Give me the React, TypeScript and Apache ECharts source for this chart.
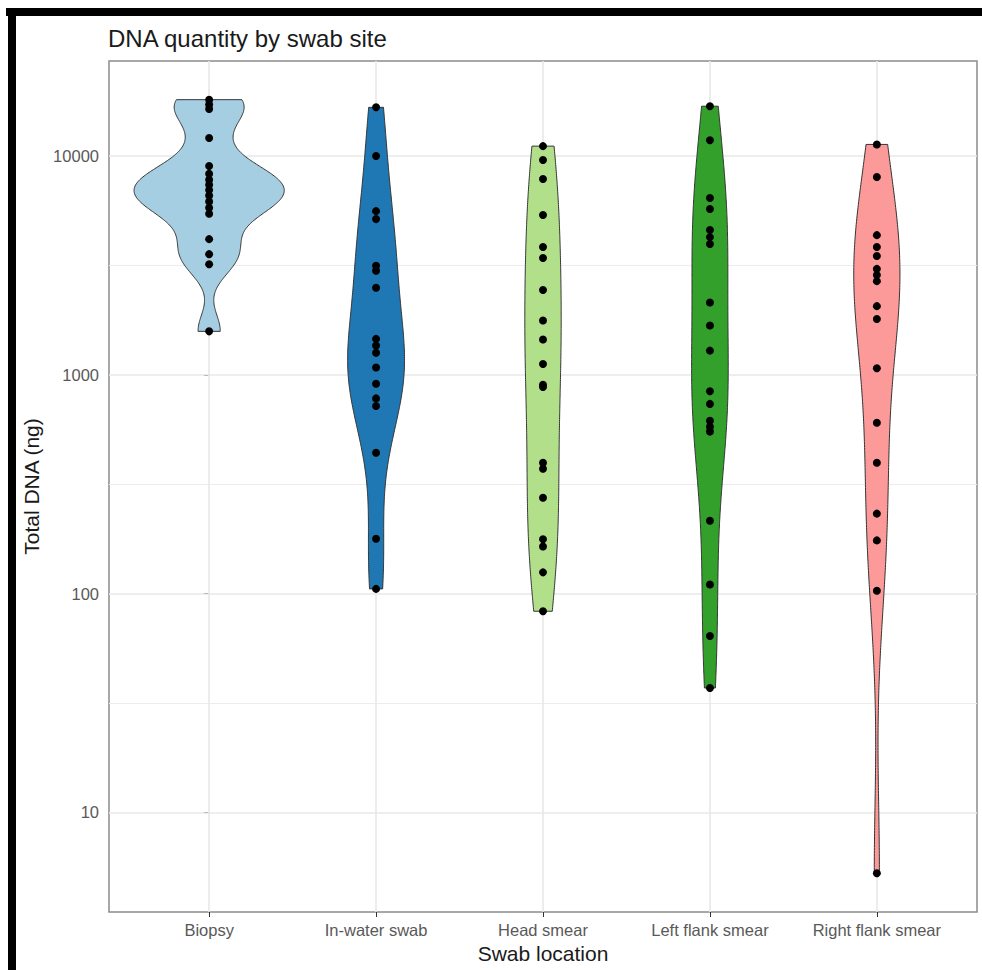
import React, { useEffect, useRef } from 'react';
import * as echarts from 'echarts';

const categories = ['Biopsy', 'In-water swab', 'Head smear', 'Left flank smear', 'Right flank smear'];

const biopsy = [18100, 17200, 16400, 12100, 9000, 8300, 7800, 7400, 7000, 6600, 6200, 5800, 5450, 4170, 3560, 3200, 1580];
const inWaterSwab = [16700, 10000, 5600, 5150, 3150, 2990, 2500, 1460, 1360, 1260, 1080, 910, 780, 720, 440, 178, 105];
const headSmear = [11100, 9600, 7850, 5380, 3840, 3420, 2440, 1770, 1450, 1120, 900, 880, 396, 372, 274, 177, 164, 125, 83];
const leftFlankSmear = [16900, 11800, 6430, 5730, 4590, 4260, 3960, 2140, 1680, 1290, 841, 736, 616, 579, 550, 215, 110, 64, 37];
const rightFlankSmear = [11300, 8020, 4350, 3840, 3490, 3050, 2860, 2680, 2060, 1800, 1072, 604, 396, 232, 175, 103, 5.26];

const fillColors = ['#A6CEE3', '#1F78B4', '#B2DF8A', '#33A02C', '#FB9A99'];
const yTickValues = [10, 100, 1000, 10000];
const yMinorValues = [31.62, 316.2, 3162];

const FONT = "'Liberation Sans', Arial, Helvetica, sans-serif";

function quantile7(sorted: number[], p: number) {
  const h = (sorted.length - 1) * p;
  const lo = Math.floor(h);
  const hi = Math.ceil(h);
  return sorted[lo] + (h - lo) * (sorted[hi] - sorted[lo]);
}

function bwNrd0(sorted: number[]) {
  const n = sorted.length;
  const mean = sorted.reduce((a, b) => a + b, 0) / n;
  const sd = Math.sqrt(sorted.reduce((a, b) => a + (b - mean) * (b - mean), 0) / (n - 1));
  const iqr = quantile7(sorted, 0.75) - quantile7(sorted, 0.25);
  let lo = Math.min(sd, iqr / 1.34);
  if (!lo) lo = sd || Math.abs(sorted[0]) || 1;
  return 0.9 * lo * Math.pow(n, -0.2);
}

const groups = [biopsy, inWaterSwab, headSmear, leftFlankSmear, rightFlankSmear];
const logGroups = groups.map((g) => g.map((v) => Math.log10(v)));

const NGRID = 256;
const densities = logGroups.map((lg) => {
  const s = [...lg].sort((a, b) => a - b);
  const bw = bwNrd0(s);
  const lo = s[0];
  const hi = s[s.length - 1];
  const ys: number[] = [];
  const ds: number[] = [];
  const c = 1 / (s.length * bw * Math.sqrt(2 * Math.PI));
  for (let k = 0; k < NGRID; k++) {
    const y = lo + ((hi - lo) * k) / (NGRID - 1);
    let d = 0;
    for (const xi of s) {
      const z = (y - xi) / bw;
      d += Math.exp(-0.5 * z * z);
    }
    ys.push(y);
    ds.push(d * c);
  }
  return { ys, ds };
});
const maxDensity = Math.max(...densities.map((d) => Math.max(...d.ds)));

const allLogs = logGroups.flat();
const logMin = Math.min(...allLogs);
const logMax = Math.max(...allLogs);
const logRange = logMax - logMin;
const yAxisMin = logMin - 0.05 * logRange;
const yAxisMax = logMax + 0.05 * logRange;

export default function App() {
  const ref = useRef<HTMLDivElement>(null);

  useEffect(() => {
    if (!ref.current) return;
    const chart = echarts.init(ref.current, undefined, { renderer: 'svg' });
    const gridLine = { color: '#e8e8e8', width: 1.6, type: 'solid' };
    const minorLine = { color: '#ececec', width: 1, type: 'solid' };
    const option: any = {
      animation: false,
      backgroundColor: '#ffffff',
      title: {
        text: 'DNA quantity by swab site',
        left: 108,
        top: 26,
        padding: 0,
        textStyle: { fontSize: 24, fontWeight: 'normal', color: '#1a1a1a', fontFamily: FONT },
      },
      graphic: [
        { type: 'rect', shape: { x: 6, y: 8, width: 976, height: 8 }, style: { fill: '#000' }, silent: true },
        { type: 'rect', shape: { x: 8, y: 8, width: 8, height: 962 }, style: { fill: '#000' }, silent: true },
      ],
      grid: {
        left: 109,
        right: 5,
        top: 61,
        bottom: 58,
        show: true,
        borderColor: '#8c8c8c',
        borderWidth: 1.5,
        backgroundColor: 'transparent',
        z: 0,
      },
      xAxis: {
        type: 'value',
        min: -0.6,
        max: 4.6,
        axisLine: { show: false },
        splitLine: { show: false },
        axisTick: { show: true, customValues: [0, 1, 2, 3, 4], length: 5, lineStyle: { color: '#333' } },
        axisLabel: {
          customValues: [0, 1, 2, 3, 4],
          formatter: (v: number) => categories[Math.round(v)],
          fontSize: 16.5,
          color: '#595959',
          margin: 9,
          fontFamily: FONT,
        },
        name: 'Swab location',
        nameLocation: 'middle',
        nameGap: 26,
        nameTextStyle: { fontSize: 21, color: '#1a1a1a', fontFamily: FONT },
      },
      yAxis: {
        type: 'value',
        min: yAxisMin,
        max: yAxisMax,
        axisLine: { show: false },
        splitLine: { show: false },
        axisTick: { show: true, customValues: yTickValues.map((v) => Math.log10(v)), length: 5, lineStyle: { color: '#333' } },
        axisLabel: {
          customValues: yTickValues.map((v) => Math.log10(v)),
          formatter: (v: number) => String(Math.round(Math.pow(10, v))),
          fontSize: 16.5,
          color: '#595959',
          margin: 10,
          fontFamily: FONT,
        },
        name: 'Total DNA (ng)',
        nameLocation: 'middle',
        nameRotate: 90,
        nameGap: 64,
        nameTextStyle: { fontSize: 21, color: '#1a1a1a', fontFamily: FONT },
      },
      series: [
        {
          type: 'line',
          data: [],
          z: 1,
          silent: true,
          markLine: {
            z: 1,
            silent: true,
            symbol: ['none', 'none'],
            label: { show: false },
            animation: false,
            data: [
              ...yMinorValues.map((v) => ({ yAxis: Math.log10(v), lineStyle: minorLine })),
              ...yTickValues.map((v) => ({ yAxis: Math.log10(v), lineStyle: gridLine })),
              ...categories.map((_, i) => ({ xAxis: i, lineStyle: gridLine })),
            ],
          },
        },
        {
          type: 'custom',
          z: 3,
          silent: true,
          data: categories.map((_, i) => [i, yAxisMin]),
          renderItem: (params: any, api: any) => {
            const i = api.value(0);
            const d = densities[i];
            const right: number[][] = [];
            const left: number[][] = [];
            for (let k = 0; k < d.ys.length; k++) {
              const hw = (0.45 * d.ds[k]) / maxDensity;
              right.push(api.coord([i + hw, d.ys[k]]));
              left.push(api.coord([i - hw, d.ys[k]]));
            }
            const pts = right.concat(left.reverse());
            return {
              type: 'polygon',
              shape: { points: pts },
              style: { fill: fillColors[i], stroke: '#333333', lineWidth: 1 },
            };
          },
        },
        {
          type: 'scatter',
          z: 4,
          symbolSize: 8,
          itemStyle: { color: '#000000', opacity: 1 },
          data: logGroups.flatMap((lg, i) => lg.map((v) => [i, v])),
        },
      ],
    };
    chart.setOption(option);
    return () => chart.dispose();
  }, []);

  return (
    <div
      ref={ref}
      style={{ position: 'fixed', left: 0, top: 0, width: 982, height: 970, background: '#fff' }}
    />
  );
}
